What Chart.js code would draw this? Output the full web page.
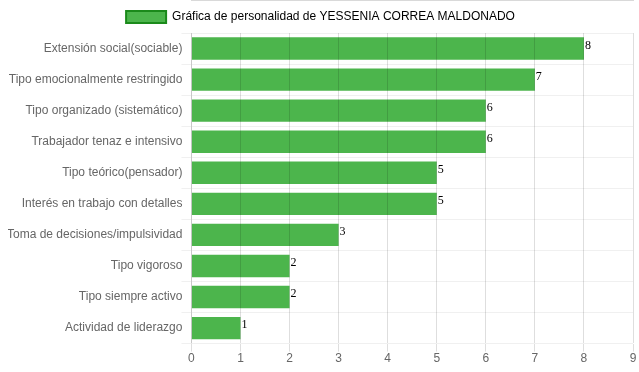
<!DOCTYPE html>
<html>
<head>
<meta charset="utf-8">
<script src="https://cdn.jsdelivr.net/npm/chart.js@4/dist/chart.umd.min.js"></script>
<style>
  html, body { margin: 0; padding: 0; background: #fff; }
  #caja { width: 639px; height: 372px; }
</style>
</head>
<body>
<div id="caja"><canvas id="miGrafico"></canvas></div>
<script>
const rasgos = [
  "Extensión social(sociable)",
  "Tipo emocionalmente restringido",
  "Tipo organizado (sistemático)",
  "Trabajador tenaz e intensivo",
  "Tipo teórico(pensador)",
  "Interés en trabajo con detalles",
  "Toma de decisiones/impulsividad",
  "Tipo vigoroso",
  "Tipo siempre activo",
  "Actividad de liderazgo"
];
const puntajes = [8, 7, 6, 6, 5, 5, 3, 2, 2, 1];
const ticksX = [0, 1, 2, 3, 4, 5, 6, 7, 8, 9];
const titulo = "Gráfica de personalidad de YESSENIA CORREA MALDONADO";

Chart.defaults.font.family = "'Liberation Sans', Arial, sans-serif";
Chart.defaults.font.size = 12;
Chart.defaults.color = "#666";

// escribe el valor al final de cada barra
const etiquetasValor = {
  id: "etiquetasValor",
  afterDatasetsDraw(chart) {
    const ctx = chart.ctx;
    const meta = chart.getDatasetMeta(0);
    ctx.save();
    ctx.font = "12px 'Liberation Serif', 'Times New Roman', serif";
    ctx.fillStyle = "#000";
    ctx.textAlign = "left";
    ctx.textBaseline = "middle";
    meta.data.forEach((barra, i) => {
      ctx.fillText(puntajes[i], barra.x + 1, barra.y - 3);
    });
    ctx.restore();
  }
};

new Chart(document.getElementById("miGrafico"), {
  type: "bar",
  data: {
    labels: rasgos,
    datasets: [{
      label: titulo,
      data: puntajes,
      backgroundColor: "#4cb54c",
      borderColor: "#1b8a1b",
      borderWidth: 0
    }]
  },
  options: {
    indexAxis: "y",
    responsive: true,
    maintainAspectRatio: false,
    animation: false,
    layout: { padding: { left: 8, right: 6, top: 1, bottom: 6 } },
    plugins: {
      tooltip: { enabled: false },
      legend: {
        labels: {
          boxWidth: 40,
          boxHeight: 12,
          padding: 10,
          generateLabels: (chart) => [{
            text: titulo,
            fillStyle: "#4cb54c",
            strokeStyle: "#1b8a1b",
            lineWidth: 2,
            datasetIndex: 0
          }]
        }
      }
    },
    scales: {
      x: {
        min: 0,
        max: 9,
        afterBuildTicks: (eje) => { eje.ticks = ticksX.map(v => ({ value: v })); },
        grid: { color: "rgba(0,0,0,0.13)", z: 1, tickLength: 8 },
        border: { color: "rgba(0,0,0,0.3)" },
        ticks: { padding: 0 }
      },
      y: {
        grid: { color: "rgba(0,0,0,0.06)", offset: true, tickLength: 10 },
        border: { color: "rgba(0,0,0,0.1)" },
        ticks: { padding: -1 }
      }
    }
  },
  plugins: [etiquetasValor]
});
</script>
</body>
</html>
